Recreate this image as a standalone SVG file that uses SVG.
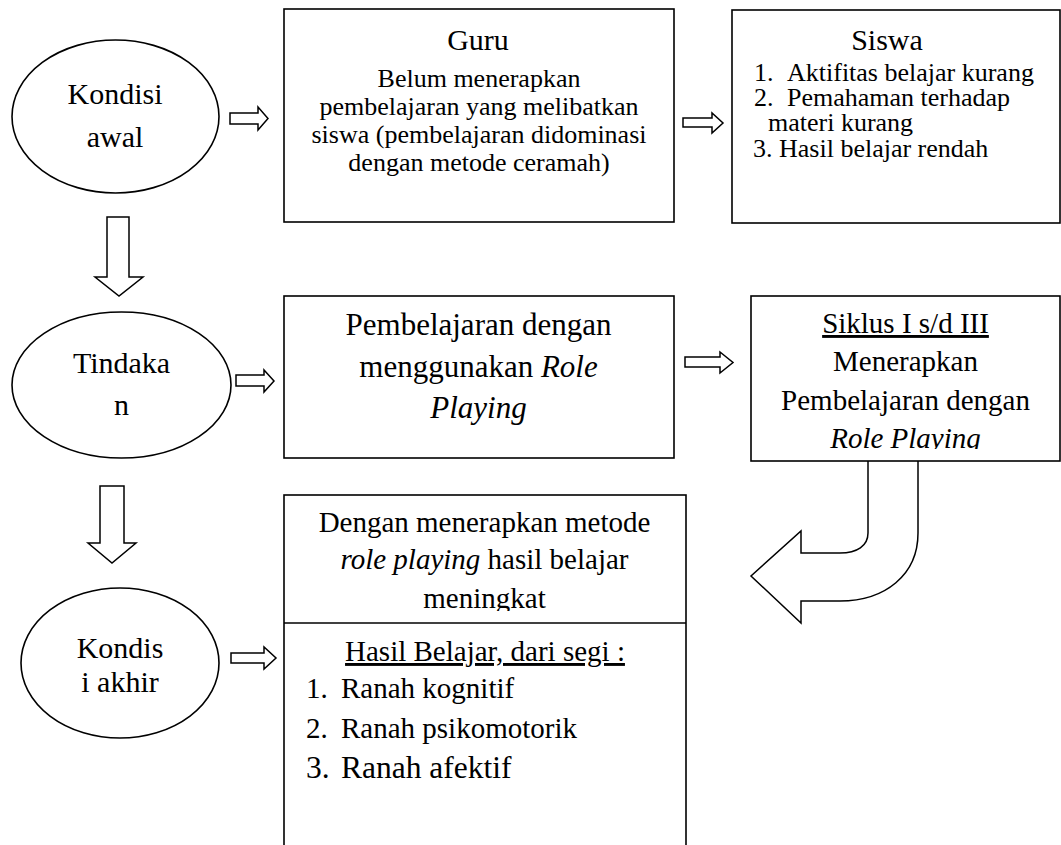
<svg xmlns="http://www.w3.org/2000/svg" width="1061" height="845" viewBox="0 0 1061 845" font-family="'Liberation Serif', 'Times New Roman', serif">
<style>
.shape{fill:#fff;stroke:#000;stroke-width:1.6}
.arrow{fill:#fff;stroke:#000;stroke-width:1.5;stroke-linejoin:miter}
.t{font-family:'Liberation Serif','Times New Roman',serif;fill:#000}
.c{text-anchor:middle}
.it{font-style:italic}
.u{text-decoration:underline}
</style>
<defs>
<clipPath id="clipSiklus"><rect x="751" y="296" width="309" height="153"/></clipPath>
<clipPath id="clipHasil"><rect x="284" y="495" width="402" height="116"/></clipPath>
</defs>
<rect width="1061" height="845" fill="#fff"/>

<g id="connectors">
<polygon class="arrow" points="230,113 258,113 258,107 268,118.5 258,130 258,124 230,124"/>
<polygon class="arrow" points="683,118 712,118 712,113 723,123 712,133 712,127 683,127"/>
<polygon class="arrow" points="107,217 129,217 129,277 143,277 119,296 95,277 107,277"/>
<polygon class="arrow" points="236,375 264,375 264,370 274,381 264,392 264,386 236,386"/>
<polygon class="arrow" points="685,357 720,357 720,352 733,362.5 720,373 720,367 685,367"/>
<polygon class="arrow" points="100,486 124,486 124,543 136,543 112,563 88,543 100,543"/>
<polygon class="arrow" points="231,653 264,653 264,647 276,658 264,669 264,663 231,663"/>
<path class="arrow" d="M868,461 L868,533 C868,546 857,553 840,553 L801,553 L801,531 L751,576 L801,623 L801,601 L840,601 C885,601 918,575 918,533 L918,461"/>
</g>

<g id="kondisi-awal">
<ellipse class="shape" cx="115.5" cy="116.5" rx="103.5" ry="76.5"/>
<text class="t c" x="115" y="104" font-size="30">Kondisi</text>
<text class="t c" x="115" y="147" font-size="30">awal</text>
</g>

<g id="guru">
<rect class="shape" x="284" y="9" width="390" height="213"/>
<text class="t c" x="478" y="50" font-size="30">Guru</text>
<text class="t c" x="479" y="87" font-size="26">Belum menerapkan</text>
<text class="t c" x="479" y="115" font-size="26">pembelajaran yang melibatkan</text>
<text class="t c" x="479" y="143" font-size="26">siswa (pembelajaran didominasi</text>
<text class="t c" x="479" y="171" font-size="26">dengan metode ceramah)</text>
</g>

<g id="siswa">
<rect class="shape" x="732" y="10" width="328" height="213"/>
<text class="t c" x="887" y="50" font-size="30">Siswa</text>
<text class="t" font-size="26"><tspan x="754" y="81">1.</tspan><tspan x="787" y="81">Aktifitas belajar kurang</tspan></text>
<text class="t" font-size="26"><tspan x="754" y="106">2.</tspan><tspan x="787" y="106">Pemahaman terhadap</tspan></text>
<text class="t" x="768" y="131" font-size="26">materi kurang</text>
<text class="t" x="753" y="157" font-size="26">3. Hasil belajar rendah</text>
</g>

<g id="tindakan">
<ellipse class="shape" cx="121.5" cy="385" rx="109.5" ry="73"/>
<text class="t c" x="121.5" y="373" font-size="30">Tindaka</text>
<text class="t c" x="121.5" y="415" font-size="30">n</text>
</g>

<g id="pembelajaran">
<rect class="shape" x="284" y="296" width="390" height="162"/>
<text class="t c" x="478.5" y="335" font-size="31">Pembelajaran dengan</text>
<text class="t c" x="478.5" y="377" font-size="31">menggunakan <tspan class="it">Role</tspan></text>
<text class="t c it" x="478.5" y="418" font-size="31">Playing</text>
</g>

<g id="siklus">
<rect class="shape" x="751" y="296" width="309" height="165"/>
<text class="t c u" x="905.5" y="333" font-size="29">Siklus I s/d III</text>
<text class="t c" x="905.5" y="371" font-size="29">Menerapkan</text>
<text class="t c" x="905.5" y="410" font-size="29">Pembelajaran dengan</text>
<text class="t c it" x="905.5" y="448" font-size="29" clip-path="url(#clipSiklus)">Role Playing</text>
</g>

<g id="kondisi-akhir">
<ellipse class="shape" cx="120" cy="663" rx="99" ry="75"/>
<text class="t c" x="120" y="658" font-size="30">Kondis</text>
<text class="t c" x="120" y="692" font-size="30">i akhir</text>
</g>

<g id="hasil">
<rect class="shape" x="284" y="495" width="402" height="360"/>
<line class="shape" x1="284" y1="623" x2="686" y2="623"/>
<text class="t c" x="484.5" y="532" font-size="29">Dengan menerapkan metode</text>
<text class="t c" x="484.5" y="569" font-size="29"><tspan class="it">role playing</tspan> hasil belajar</text>
<text class="t c" x="484.5" y="608" font-size="29" clip-path="url(#clipHasil)">meningkat</text>
<text class="t c u" x="485" y="661" font-size="29">Hasil Belajar, dari segi :</text>
<text class="t" font-size="29"><tspan x="306" y="698">1.</tspan><tspan x="341" y="698">Ranah kognitif</tspan></text>
<text class="t" font-size="29"><tspan x="306" y="738">2.</tspan><tspan x="341" y="738">Ranah psikomotorik</tspan></text>
<text class="t" font-size="31.5"><tspan x="306" y="778">3.</tspan><tspan x="341" y="778">Ranah afektif</tspan></text>
</g>
</svg>
